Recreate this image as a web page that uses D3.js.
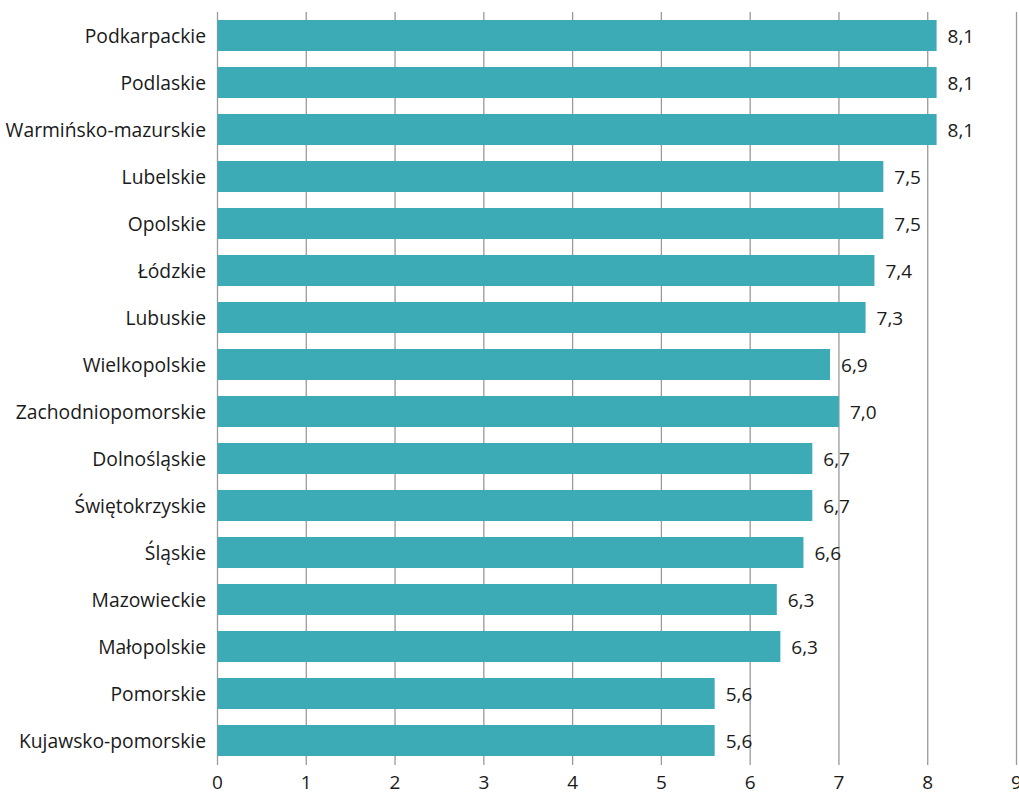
<!DOCTYPE html>
<html><head><meta charset="utf-8">
<script src="https://cdn.jsdelivr.net/npm/d3@7"></script>
<style>body{margin:0;background:#fff}svg{display:block}text{font-family:"Open Sans",sans-serif;fill:#1a1a1a}</style>
</head><body><svg id="c" width="1019" height="795"></svg>
<script>
const categories = ["Podkarpackie","Podlaskie","Warmińsko-mazurskie","Lubelskie","Opolskie","Łódzkie","Lubuskie","Wielkopolskie","Zachodniopomorskie","Dolnośląskie","Świętokrzyskie","Śląskie","Mazowieckie","Małopolskie","Pomorskie","Kujawsko-pomorskie"];
const values = [8.1,8.1,8.1,7.5,7.5,7.4,7.3,6.9,7.0,6.7,6.7,6.6,6.3,6.34,5.6,5.6];
const ticks = [0,1,2,3,4,5,6,7,8,9];

const svg = d3.select("#c");
const x = d3.scaleLinear().domain([0,9]).range([217.5,1016.5]);
const y = d3.scaleBand().domain(categories).range([12,764]).paddingInner(0.34).paddingOuter(0.17);
const fmt = v => d3.format(".1f")(v).replace(".",",");

// gridlines
svg.append("g").selectAll("line").data(ticks).join("line")
  .attr("x1",d=>x(d)).attr("x2",d=>x(d)).attr("y1",12).attr("y2",765)
  .attr("stroke","#9a9a9a").attr("stroke-width",1.3);

// bars
svg.append("g").selectAll("rect").data(values).join("rect")
  .attr("x",x(0)).attr("y",(d,i)=>y(categories[i]))
  .attr("width",d=>x(d)-x(0)).attr("height",y.bandwidth())
  .attr("fill","#3dabb5");

// value labels
svg.append("g").selectAll("text").data(values).join("text")
  .attr("x",d=>x(d)+11).attr("y",(d,i)=>y(categories[i])+y.bandwidth()/2+0.5)
  .attr("dy","0.35em").attr("font-size",19).text(d=>fmt(d));

// category labels
svg.append("g").selectAll("text").data(categories).join("text")
  .attr("x",206).attr("y",d=>y(d)+y.bandwidth()/2+1).attr("dy","0.35em")
  .attr("text-anchor","end").attr("font-size",19.3).text(d=>d);

// x tick labels
svg.append("g").selectAll("text").data(ticks).join("text")
  .attr("x",d=>x(d)).attr("y",789).attr("text-anchor","middle")
  .attr("font-size",19).text(d=>d);
</script></body></html>
